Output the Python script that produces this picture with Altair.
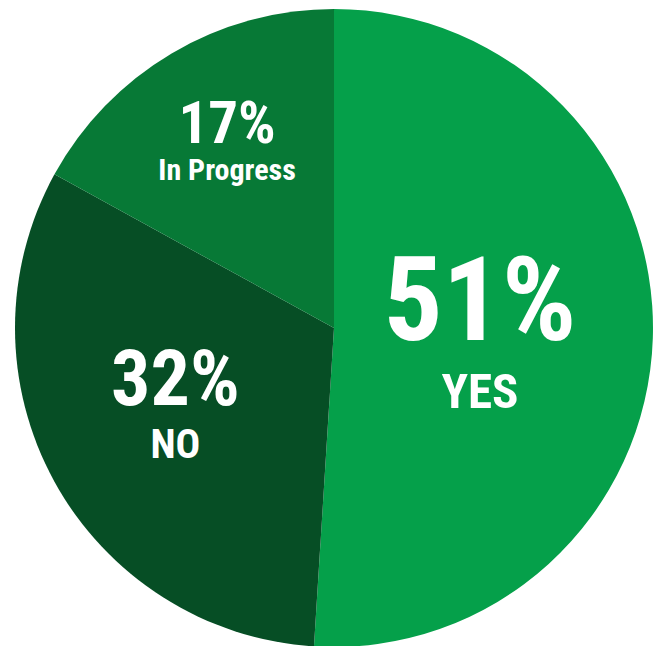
import altair as alt
import pandas as pd

# ---- data ----
categories = ["YES", "NO", "In Progress"]
percents = [51, 32, 17]
colors = ["#05A04A", "#064E25", "#077936"]

df = pd.DataFrame({"category": categories, "value": percents, "order": list(range(len(categories)))})

FONT = "Roboto Condensed, Liberation Sans Narrow, Roboto, sans-serif"
CX, CY, R = 334, 328, 319

# label layout: radius, pct size, name size, pct dy, name dy
layout = {
    "YES": (146, 117, 49, 7, 75),
    "NO": (181, 78, 41, -10, 43),
    "In Progress": (210, 59, 30, -4, 33),
}

theta_scale = alt.Scale(domain=[0, sum(percents)])

base = alt.Chart(df)

arcs = base.mark_arc(stroke=None).encode(
    theta=alt.Theta("value:Q", stack=True, scale=theta_scale),
    color=alt.Color("category:N", scale=alt.Scale(domain=categories, range=colors), legend=None),
    order=alt.Order("order:Q"),
    x=alt.value(CX),
    y=alt.value(CY),
    radius=alt.value(R),
)

labels_base = base.transform_window(
    cum="sum(value)", sort=[alt.SortField("order")], frame=[None, 0]
).transform_calculate(
    mid="datum.cum - datum.value / 2",
    pct="datum.value + '%'",
)

layers = [arcs]
for cat, (rad, ps, ns, pdy, ndy) in layout.items():
    sub = labels_base.transform_filter(alt.datum.category == cat)
    enc = dict(
        theta=alt.Theta("mid:Q", stack=None, scale=theta_scale),
        x=alt.value(CX),
        y=alt.value(CY),
        radius=alt.value(rad),
    )
    layers.append(
        sub.mark_text(font=FONT, fontWeight="bold", fontSize=ps, color="white",
                      align="center", baseline="alphabetic", dy=pdy).encode(text="pct:N", **enc)
    )
    layers.append(
        sub.mark_text(font=FONT, fontWeight="bold", fontSize=ns, color="white",
                      align="center", baseline="alphabetic", dy=ndy).encode(text="category:N", **enc)
    )

chart = alt.layer(*layers).properties(
    width=660, height=646, padding=0, autosize=alt.AutoSizeParams(type="none"), background="white"
).configure_view(stroke=None)

chart.save("out.html", embed_options={"renderer": "svg", "actions": False})
